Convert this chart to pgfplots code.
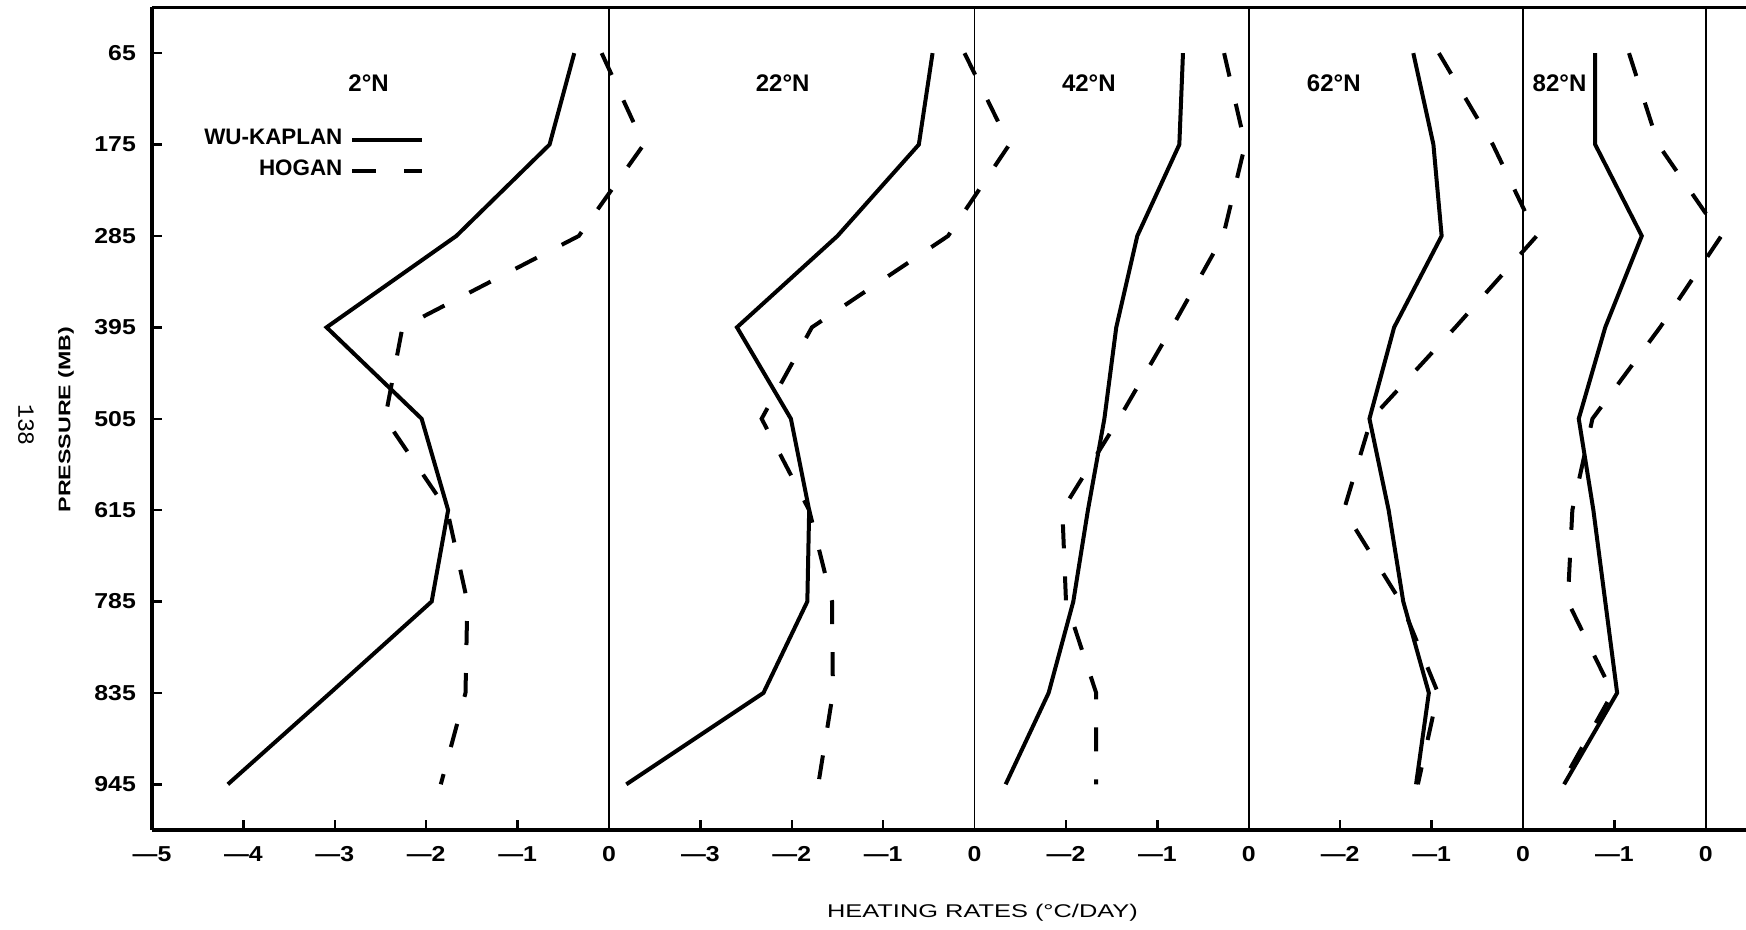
\documentclass[border=0pt]{standalone}
\usepackage{pgfplots}
\pgfplotsset{compat=1.18}
\usepackage{pgfplotstable}
\usepackage{fontspec}
\setmainfont{Liberation Sans}
\newfontfamily\tickfont{Liberation Sans}[FakeStretch=1.15]
\newfontfamily\widefont{Liberation Sans}[FakeStretch=1.38]
\newfontfamily\pagefont{Liberation Mono}

% Heating rates (deg C / day) at the nine pressure levels.
% lev = row index of the level (0 = 65 mb ... 8 = 945 mb)
% wk = Wu-Kaplan, ho = Hogan
\pgfplotstableread{
lev wk ho
0 -0.38 -0.08
1 -0.65  0.38
2 -1.67 -0.33
3 -3.09 -2.26
4 -2.05 -2.45
5 -1.76 -1.77
6 -1.94 -1.55
7 -3.05 -1.57
8 -4.17 -1.84
}\latTwo
\pgfplotstableread{
lev wk ho
0 -0.46 -0.11
1 -0.61  0.38
2 -1.50 -0.29
3 -2.60 -1.78
4 -2.01 -2.33
5 -1.81 -1.81
6 -1.83 -1.56
7 -2.31 -1.55
8 -3.81 -1.71
}\latTwentyTwo
\pgfplotstableread{
lev wk ho
0 -0.72 -0.27
1 -0.76 -0.04
2 -1.22 -0.28
3 -1.45 -0.84
4 -1.58 -1.42
5 -1.76 -2.04
6 -1.92 -2.00
7 -2.19 -1.67
8 -2.66 -1.67
}\latFortyTwo
\pgfplotstableread{
lev wk ho
0 -1.20 -0.92
1 -0.98 -0.33
2 -0.89  0.15
3 -1.41 -0.74
4 -1.68 -1.66
5 -1.47 -1.96
6 -1.31 -1.34
7 -1.03 -0.93
8 -1.17 -1.15
}\latSixtyTwo
\pgfplotstableread{
lev wk ho
0 -1.21 -0.84
1 -1.21 -0.52
2 -0.70  0.17
3 -1.10 -0.50
4 -1.39 -1.24
5 -1.23 -1.46
6 -1.10 -1.51
7 -0.97 -1.02
8 -1.55 -1.58
}\latEightyTwo

\begin{document}
\begin{tikzpicture}
\useasboundingbox (0,0) rectangle (436.5pt,232.5pt);
\begin{axis}[
  at={(38pt,25pt)}, anchor=south west,
  scale only axis, width=398.5pt, height=205.65pt,
  xmin=0, xmax=17.44, ymin=-0.5, ymax=8.5, y dir=reverse,
  axis x line*=box, axis y line*=left,
  axis line style={-, line width=0.8pt, black},
  every outer x axis line/.append style={-},
  every outer y axis line/.append style={-},
  xtick pos=bottom, ytick pos=left,
  tick align=inside, major tick length=2.4pt,
  tick style={line width=0.6pt, black},
  % panels share one frame: each latitude is shifted so its zero sits on a divider
  xtick={0,1,2,3,4,6,7,8,10,11,13,14,16},
  xticklabels={\textemdash5,\textemdash4,\textemdash3,\textemdash2,\textemdash1,
               \textemdash3,\textemdash2,\textemdash1,
               \textemdash2,\textemdash1,
               \textemdash2,\textemdash1,
               \textemdash1},
  extra x ticks={5,9,12,15,17},
  extra x tick labels={0,0,0,0,0},
  extra x tick style={grid=major, major tick length=0pt,
    major grid style={line width=0.42pt, black}},
  ytick={0,1,2,3,4,5,6,7,8},
  yticklabels={65,175,285,395,505,615,785,835,945},
  xticklabel style={font=\fontsize{5.4}{6.4}\tickfont\bfseries, yshift=-0.6pt},
  yticklabel style={font=\fontsize{5.4}{6.4}\tickfont\bfseries, xshift=-0.5pt},
  xlabel={HEATING RATES (°C/DAY)},
  xlabel style={font=\fontsize{4.6}{5.4}\widefont, at={(axis description cs:0.521,0)},
    anchor=center, yshift=-20.75pt},
  ylabel={PRESSURE (MB)},
  ylabel style={font=\fontsize{4.2}{5}\widefont\bfseries,
    at={([xshift=-21.5pt]axis description cs:0,0.499)}, anchor=center},
  every axis plot/.append style={black, line width=1pt, no markers},
  wu/.style={solid},
  hog/.style={dash pattern=on 6pt off 7pt},
  legend style={draw=none, fill=none, inner sep=0pt,
    at={(axis description cs:0.1714,0.82)}, anchor=east,
    font=\fontsize{5.6}{6.5}\selectfont\bfseries, row sep=-1.8pt},
  legend plot pos=right, legend cell align=right,
  legend image code/.code={\draw[#1] (0pt,0pt) -- (17.5pt,0pt);},
]
% 2 N
\addplot[wu]  table[x expr=\thisrow{wk}+5, y=lev]{\latTwo};
\addlegendentry{WU-KAPLAN}
\addplot[hog] table[x expr=\thisrow{ho}+5, y=lev]{\latTwo};
\addlegendentry{HOGAN}
% 22 N
\addplot[wu, forget plot]  table[x expr=\thisrow{wk}+9, y=lev]{\latTwentyTwo};
\addplot[hog, forget plot] table[x expr=\thisrow{ho}+9, y=lev]{\latTwentyTwo};
% 42 N
\addplot[wu, forget plot]  table[x expr=\thisrow{wk}+12, y=lev]{\latFortyTwo};
\addplot[hog, forget plot] table[x expr=\thisrow{ho}+12, y=lev]{\latFortyTwo};
% 62 N
\addplot[wu, forget plot]  table[x expr=\thisrow{wk}+15, y=lev]{\latSixtyTwo};
\addplot[hog, forget plot] table[x expr=\thisrow{ho}+15, y=lev]{\latSixtyTwo};
% 82 N
\addplot[wu, forget plot]  table[x expr=\thisrow{wk}+17, y=lev]{\latEightyTwo};
\addplot[hog, forget plot] table[x expr=\thisrow{ho}+17, y=lev]{\latEightyTwo};

% latitude of each panel
\begin{scope}[every node/.style={font=\fontsize{6}{7}\selectfont\bfseries}]
\node at (axis cs:2.37,0.33)  {2°N};
\node at (axis cs:6.90,0.33)  {22°N};
\node at (axis cs:10.25,0.33) {42°N};
\node at (axis cs:12.93,0.33) {62°N};
\node at (axis cs:15.40,0.33) {82°N};
\end{scope}
\end{axis}
% page number
\node[rotate=-90, font=\fontsize{5.8}{6}\pagefont] at (6.5pt,126.25pt) {138};
\end{tikzpicture}
\end{document}
